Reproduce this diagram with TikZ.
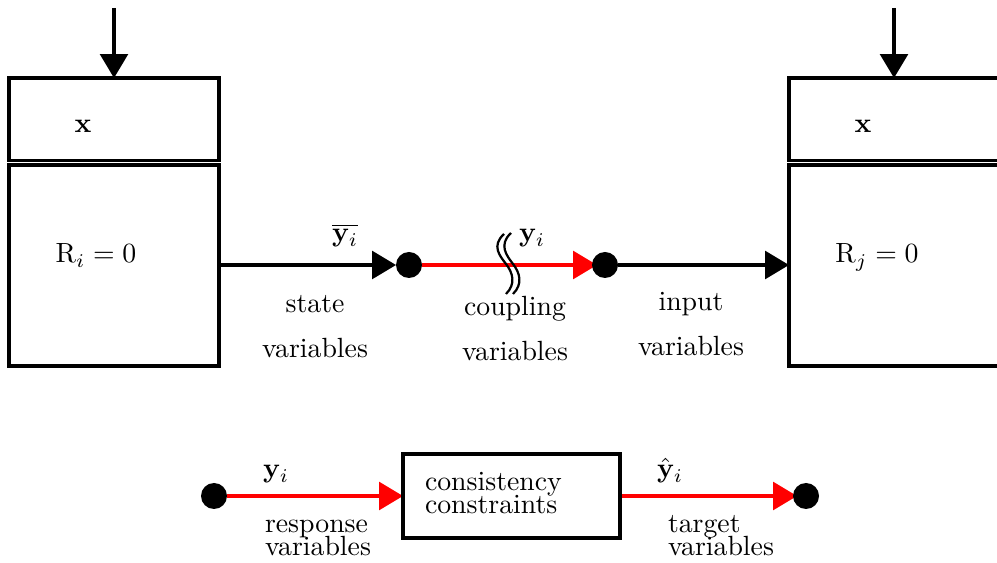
\documentclass[tikz,border=0pt]{standalone}
\usetikzlibrary{arrows.meta,backgrounds}
\newlength\pxu
\setlength\pxu{0.36pt}
\begin{document}
\begin{tikzpicture}[x=0.36pt,y=-0.36pt,
  box/.style={draw,line width=1.1pt,inner sep=0pt,outer sep=0pt},
  dot/.style={circle,fill=black,inner sep=0pt,outer sep=0pt,minimum size={26*\pxu}},
  lbl/.style={inner sep=0pt,outer sep=0pt},
  tip/.style={-{Triangle[length=8.6pt,width=10pt]}},
  conn/.style={tip,line width=1.1pt,draw=black,fill=black},
  redconn/.style={tip,line width=1.1pt,draw=red,fill=red},
  wave/.style={line width=0.8pt,draw=black},
  pairlbl/.style={lbl,align=center,font={\fontsize{10}{16.3}\selectfont}},
  tightlbl/.style={lbl,align=left,font={\fontsize{10}{8.3}\selectfont\lineskiplimit=-\maxdimen}}]
  \clip (0,0) rectangle (997,563);

  % left subsystem (multi-line labels are anchored at their last baseline)
  \node[box,minimum width={210*\pxu},minimum height={82.5*\pxu}] (topL) at (114,119.25) {};
  \node[box,minimum width={210*\pxu},minimum height={201*\pxu}] (botL) at (114,265.5) {};
  \node[lbl,anchor=base] (xL) at (83,133) {$\mathbf{x}$};
  \node[lbl,anchor=base] (RL) at (96,263) {$\mathrm{R}_i = 0$};
  \coordinate (inL) at (114,8);

  % right subsystem
  \node[box,minimum width={210*\pxu},minimum height={82.5*\pxu}] (topR) at (894,119.25) {};
  \node[box,minimum width={210*\pxu},minimum height={201*\pxu}] (botR) at (894,265.5) {};
  \node[lbl,anchor=base] (xR) at (863,133) {$\mathbf{x}$};
  \node[lbl,anchor=base] (RR) at (877,263) {$\mathrm{R}_j = 0$};
  \coordinate (inR) at (894,8);

  % coupling points
  \node[dot] (d1) at (409,265) {};
  \node[dot] (d2) at (605,265) {};

  % labels of the coupling chain
  \node[lbl,anchor=base west] (ybar) at (332,242) {$\overline{\mathbf{y}_i}$};
  \node[lbl,anchor=base west] (yc) at (519,242) {$\mathbf{y}_i$};
  \node[pairlbl,anchor=base] (state) at (315,358) {state\\variables};
  \node[pairlbl,anchor=base] (coupl) at (515,361) {coupling\\variables};
  \node[pairlbl,anchor=base] (input) at (691,356) {input\\variables};

  % consistency constraints
  \node[dot] (d3) at (214,496) {};
  \node[box,minimum width={217*\pxu},minimum height={84*\pxu}] (cc) at (511.5,496) {};
  \node[tightlbl,anchor=base west] (cctext) at (425,514) {consistency\\constraints};
  \node[dot] (d4) at (806,496) {};
  \node[lbl,anchor=base west] (yr) at (263,478) {$\mathbf{y}_i$};
  \node[lbl,anchor=base west] (yt) at (657,478) {$\hat{\mathbf{y}}_i$};
  \node[tightlbl,anchor=base west] (resp) at (265,556) {response\\variables};
  \node[tightlbl,anchor=base west] (targ) at (668,556) {target\\variables};

  \begin{scope}[on background layer]
    \draw[conn] (inL) -- (inL |- topL.north);
    \draw[conn] (inR) -- (inR |- topR.north);
    \draw[conn] (botL.east |- d1) -- (d1.west);
    \draw[redconn] (d1) -- ([xshift={5*\pxu}]d2.west);
    \draw[conn] (d2) -- (botR.west |- d2);
    \draw[redconn] (d3) -- (cc.west);
    \draw[redconn] (cc.east) -- ([xshift={4*\pxu}]d4.west);
    % break marks on the coupling line
    \draw[wave] (504,234) .. controls (491,246) and (500,256) .. (506,264)
                          .. controls (513,273) and (516,284) .. (506,294);
    \draw[wave] (511,233) .. controls (498,245) and (507,256) .. (513,264)
                          .. controls (520,273) and (523,284) .. (513,294);
  \end{scope}
\end{tikzpicture}
\end{document}
